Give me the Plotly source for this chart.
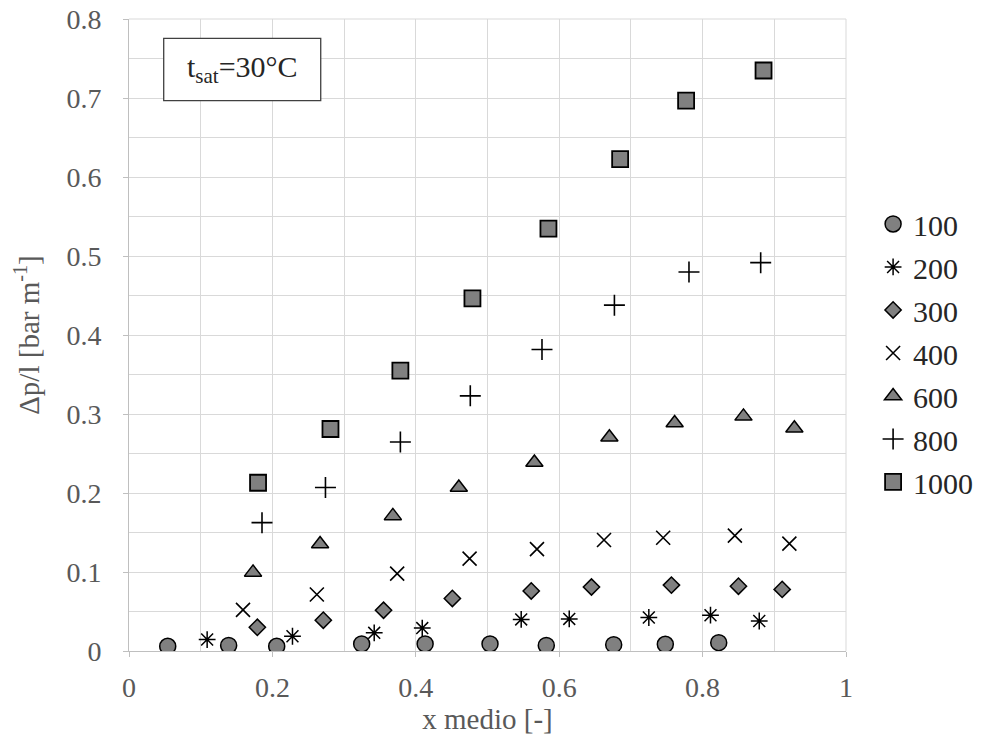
import plotly.graph_objects as go

# Pressure gradient vs. mean vapour quality, grouped by mass flux
x_100 = [0.054, 0.139, 0.206, 0.3245, 0.413, 0.5035, 0.582, 0.676, 0.748, 0.8225]
y_100 = [0.006, 0.007, 0.006, 0.009, 0.009, 0.009, 0.007, 0.008, 0.0085, 0.0106]

x_200 = [0.109, 0.228, 0.342, 0.409, 0.547, 0.614, 0.725, 0.811, 0.879]
y_200 = [0.0145, 0.0187, 0.023, 0.029, 0.040, 0.0406, 0.0424, 0.0453, 0.038]

x_300 = [0.179, 0.271, 0.355, 0.451, 0.561, 0.645, 0.7565, 0.850, 0.911]
y_300 = [0.030, 0.039, 0.0516, 0.0665, 0.076, 0.081, 0.0834, 0.082, 0.078]

x_400 = [0.159, 0.262, 0.374, 0.475, 0.569, 0.6625, 0.745, 0.845, 0.921]
y_400 = [0.052, 0.0715, 0.098, 0.117, 0.129, 0.1405, 0.1434, 0.146, 0.136]

x_600 = [0.173, 0.2665, 0.368, 0.460, 0.5654, 0.670, 0.761, 0.857, 0.928]
y_600 = [0.0995, 0.1354, 0.171, 0.207, 0.2386, 0.2705, 0.2886, 0.297, 0.282]

x_800 = [0.1855, 0.274, 0.3785, 0.476, 0.576, 0.677, 0.781, 0.881]
y_800 = [0.1625, 0.207, 0.2645, 0.323, 0.3816, 0.4378, 0.4797, 0.4916]

x_1000 = [0.18, 0.281, 0.3785, 0.479, 0.585, 0.685, 0.777, 0.885]
y_1000 = [0.213, 0.281, 0.355, 0.4463, 0.5347, 0.6227, 0.6967, 0.7348]

series_names = ["100", "200", "300", "400", "600", "800", "1000"]

FONT = "Liberation Serif"
GREY = "#808080"
GRID = "#d9d9d9"
TEXT = "#595959"

styles = {
    "100": dict(symbol="circle", size=16, color=GREY, line=dict(color="black", width=1.5)),
    "200": dict(symbol="asterisk-open", size=14, color="black", line=dict(color="black", width=1.5)),
    "300": dict(symbol="diamond", size=12.5, color=GREY, line=dict(color="black", width=1.5)),
    "400": dict(symbol="x-thin-open", size=14, color="black", line=dict(color="black", width=1.6)),
    "600": dict(symbol="triangle-up", size=15, color=GREY, line=dict(color="black", width=1.5)),
    "800": dict(symbol="cross-thin-open", size=15, color="black", line=dict(color="black", width=1.6)),
    "1000": dict(symbol="square", size=16, color=GREY, line=dict(color="black", width=1.8)),
}

data = {
    "100": (x_100, y_100),
    "200": (x_200, y_200),
    "300": (x_300, y_300),
    "400": (x_400, y_400),
    "600": (x_600, y_600),
    "800": (x_800, y_800),
    "1000": (x_1000, y_1000),
}

fig = go.Figure()
for i, name in enumerate(series_names):
    xs, ys = data[name]
    fig.add_trace(go.Scatter(
        x=xs, y=ys, mode="markers", name=name,
        legendgroup=f"g{i}",
        marker=styles[name],
    ))

fig.update_layout(
    width=981, height=751,
    margin=dict(l=129, r=135, t=19, b=100, autoexpand=False),
    paper_bgcolor="white", plot_bgcolor="white",
    font=dict(family=FONT, size=28, color=TEXT),
    showlegend=True,
    legend=dict(
        xref="container", yref="container",
        x=0.890, xanchor="left", y=0.53, yanchor="middle",
        font=dict(family=FONT, size=30, color="#262626"),
        tracegroupgap=1, traceorder="grouped",
        bgcolor="rgba(0,0,0,0)",
    ),
    xaxis=dict(
        range=[0, 1], dtick=0.2, tick0=0,
        showgrid=True, gridcolor=GRID, gridwidth=1,
        minor=dict(dtick=0.1, showgrid=True, gridcolor=GRID, gridwidth=1),
        showline=True, linecolor="#bfbfbf", linewidth=1,
        ticks="outside", ticklen=5, tickcolor="#bfbfbf",
        zeroline=False, automargin=False,
        ticklabelstandoff=6,
        title=dict(text="x medio [-]", font=dict(family=FONT, size=29, color=TEXT), standoff=2),
        tickfont=dict(family=FONT, size=28, color=TEXT),
    ),
    yaxis=dict(
        range=[0, 0.8], dtick=0.1, tick0=0,
        showgrid=True, gridcolor=GRID, gridwidth=1,
        minor=dict(dtick=0.05, showgrid=True, gridcolor=GRID, gridwidth=1),
        showline=True, linecolor="#bfbfbf", linewidth=1,
        ticks="outside", ticklen=5, tickcolor="#bfbfbf",
        zeroline=False, automargin=False,
        ticklabelstandoff=16,
        title=dict(text="Δp/l [bar m<sup>-1</sup>]", font=dict(family=FONT, size=29, color=TEXT), standoff=18),
        tickfont=dict(family=FONT, size=28, color=TEXT),
        tickformat="~g",
    ),
)

# Right and top frame lines of the plot area
fig.add_shape(type="line", xref="paper", yref="paper", x0=1, x1=1, y0=0, y1=1,
              line=dict(color=GRID, width=1))
fig.add_shape(type="line", xref="paper", yref="paper", x0=0, x1=1, y0=1, y1=1,
              line=dict(color=GRID, width=1))

# Saturation temperature label in a framed box
fig.add_shape(type="rect", xref="paper", yref="paper",
              x0=0.0484, x1=0.2674, y0=0.8707, y1=0.9695,
              line=dict(color="#404040", width=1.3), fillcolor="white")
fig.add_annotation(xref="paper", yref="paper", x=0.1579, y=0.9201,
                   text="t<sub>sat</sub>=30°C", showarrow=False,
                   font=dict(family=FONT, size=30, color="#262626"),
                   xanchor="center", yanchor="middle")

fig.write_html("out.html")
